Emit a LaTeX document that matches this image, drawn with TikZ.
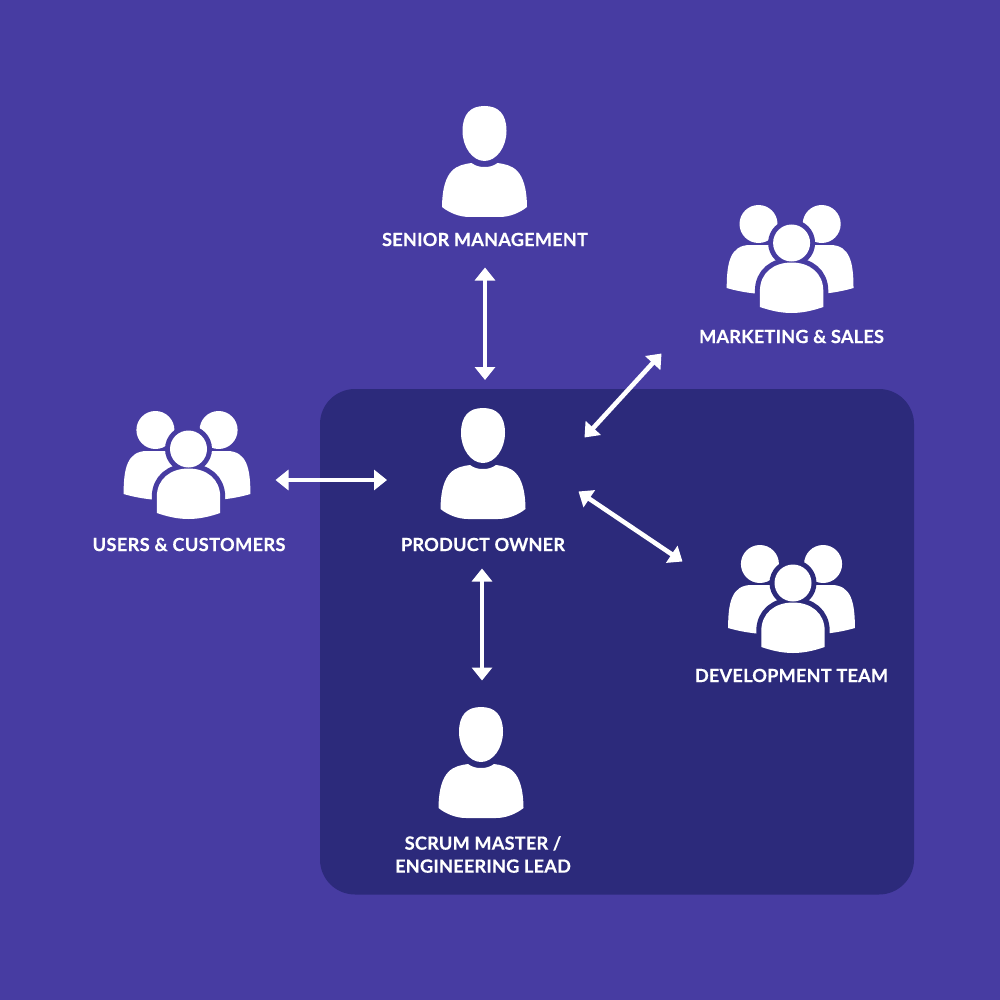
\documentclass[tikz,border=0pt]{standalone}
\usepackage{fontspec}
\setmainfont{Lato}[BoldFeatures={FakeBold=0.35}]
\usetikzlibrary{arrows.meta}
\definecolor{bgpurple}{HTML}{473CA2}
\definecolor{panelblue}{HTML}{2C2A7B}
\newcommand{\frontbody}{(-31.7,102) -- (-31.7,86) .. controls (-31.7,68) and (-18,57.5) .. (0,57.5) .. controls (18,57.5) and (31.7,68) .. (31.7,86) -- (31.7,102) .. controls (20,106) and (10,108) .. (0,108) .. controls (-10,108) and (-20,106) .. (-31.7,102) -- cycle}
\tikzset{
  x=1pt,y=-1pt,
  lbl/.style={text=white,font=\bfseries\fontsize{18.2}{23}\selectfont\addfontfeature{LetterSpace=1},align=center,inner sep=0pt},
  link/.style={draw=white,line width=4.6pt,{Triangle[width=20pt,length=13pt]}-{Triangle[width=20pt,length=13pt]}},
  person/.pic={
    \fill[white] (0,0) .. controls (14,0) and (22,8) .. (22,25) .. controls (22,41) and (12,55) .. (0,55) .. controls (-12,55) and (-22,41) .. (-22,25) .. controls (-22,8) and (-14,0) .. (0,0) -- cycle;
    \fill[white] (-13,57) .. controls (-9,60) and (-5,61) .. (0,61) .. controls (5,61) and (9,60) .. (13,57) .. controls (27,59) and (42,62) .. (42.5,101) .. controls (35,107) and (25,111) .. (15,111) -- (-15,111) .. controls (-25,111) and (-35,107) .. (-42.5,101) .. controls (-42,62) and (-27,59) .. (-13,57) -- cycle;
  },
  pics/team/.style={code={
    \fill[white] (-31.6,19) circle[radius=19];
    \fill[white] (31.6,19) circle[radius=19];
    \fill[white] (-63.4,83) .. controls (-63.4,58) and (-60,40) .. (-40,40) -- (-5,40) -- (-5,89) -- (-35,88.5) .. controls (-45,87.5) and (-55,85.5) .. (-63.4,83) -- cycle;
    \fill[white] (63.4,83) .. controls (63.4,58) and (60,40) .. (40,40) -- (5,40) -- (5,89) -- (35,88.5) .. controls (45,87.5) and (55,85.5) .. (63.4,83) -- cycle;
    \begin{scope}[xshift=1.5pt]
      \path[fill=#1,draw=#1,line width=10pt,line join=round] \frontbody;
      \fill[#1] (0,38) circle[radius=23.5];
      \fill[white] \frontbody;
      \fill[white] (0,38) circle[radius=18.5];
    \end{scope}
  }},
}
\begin{document}
\begin{tikzpicture}
\useasboundingbox (0,0) rectangle (1000,1000);
\fill[bgpurple] (0,0) rectangle (1000,1000);
\fill[panelblue,rounded corners=35pt] (320,389) rectangle (914,894.5);

\pic at (484.5,106) {person};
\pic at (483,408) {person};
\pic at (481,707) {person};
\pic at (790.1,205) {team=bgpurple};
\pic at (187,411) {team=bgpurple};
\pic at (791.5,545) {team=panelblue};

\node[lbl] (senior) at (485,239.5) {SENIOR MANAGEMENT};
\node[lbl] (marketing) at (791.5,336.5) {MARKETING \& SALES};
\node[lbl] (users) at (189,544.5) {\addfontfeature{LetterSpace=2}USERS \& CUSTOMERS};
\node[lbl] (owner) at (483,544.5) {PRODUCT OWNER};
\node[lbl] (dev) at (791.5,675.5) {DEVELOPMENT TEAM};
\node[lbl] (scrum) at (483,854.5) {SCRUM MASTER /\\ENGINEERING LEAD};

\coordinate (a1) at (485,267.5); \coordinate (a2) at (485,380);
\coordinate (b1) at (275.5,480); \coordinate (b2) at (387,480);
\coordinate (c1) at (482,568.5); \coordinate (c2) at (482,680.5);
\coordinate (d1) at (661.5,353.5); \coordinate (d2) at (584.5,437.5);
\coordinate (e1) at (578.5,491.5); \coordinate (e2) at (682.5,561.5);
\draw[link] (a1) -- (a2);
\draw[link] (b1) -- (b2);
\draw[link] (c1) -- (c2);
\draw[link] (d1) -- (d2);
\draw[link] (e1) -- (e2);
\end{tikzpicture}
\end{document}
